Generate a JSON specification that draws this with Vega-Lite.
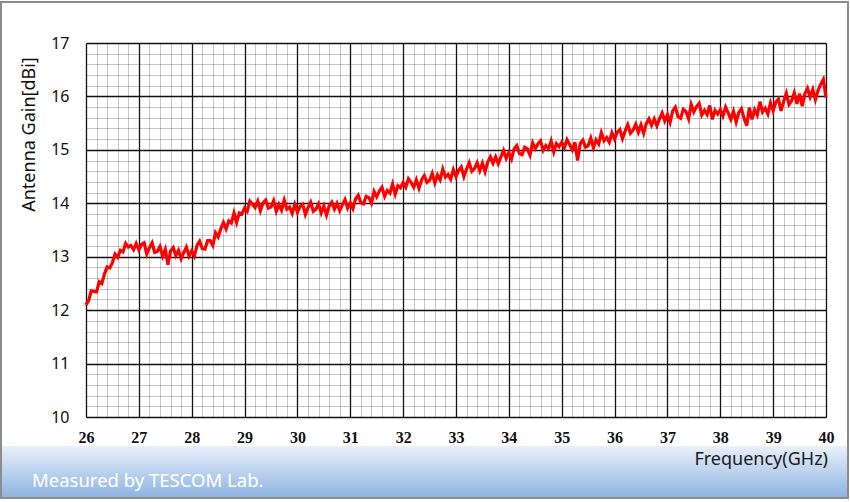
{
  "$schema": "https://vega.github.io/schema/vega-lite/v6.json",
  "width": 740,
  "height": 374,
  "autosize": "none",
  "padding": {"left": 86, "top": 43, "right": 24, "bottom": 85},
  "background": "white",
  "config": {"view": {"stroke": null}},
  "datasets": {
    "gain": [
{"freq":26.00,"gain":12.10},{"freq":26.05,"gain":12.18},{"freq":26.10,"gain":12.36},{"freq":26.15,"gain":12.35},{"freq":26.20,"gain":12.34},{"freq":26.25,"gain":12.53},{"freq":26.30,"gain":12.50},{"freq":26.35,"gain":12.68},{"freq":26.40,"gain":12.81},{"freq":26.45,"gain":12.79},
{"freq":26.50,"gain":12.89},{"freq":26.55,"gain":13.05},{"freq":26.60,"gain":12.99},{"freq":26.65,"gain":13.12},{"freq":26.70,"gain":13.09},{"freq":26.75,"gain":13.25},{"freq":26.80,"gain":13.18},{"freq":26.85,"gain":13.21},{"freq":26.90,"gain":13.13},{"freq":26.95,"gain":13.25},
{"freq":27.00,"gain":13.13},{"freq":27.05,"gain":13.23},{"freq":27.10,"gain":13.26},{"freq":27.15,"gain":13.05},{"freq":27.20,"gain":13.17},{"freq":27.25,"gain":13.26},{"freq":27.30,"gain":13.08},{"freq":27.35,"gain":13.10},{"freq":27.40,"gain":13.19},{"freq":27.45,"gain":13.01},
{"freq":27.50,"gain":13.14},{"freq":27.55,"gain":12.85},{"freq":27.60,"gain":13.11},{"freq":27.65,"gain":13.17},{"freq":27.70,"gain":13.02},{"freq":27.75,"gain":13.12},{"freq":27.80,"gain":12.96},{"freq":27.85,"gain":13.08},{"freq":27.90,"gain":13.18},{"freq":27.95,"gain":13.01},
{"freq":28.00,"gain":13.11},{"freq":28.05,"gain":13.01},{"freq":28.10,"gain":13.21},{"freq":28.15,"gain":13.29},{"freq":28.20,"gain":13.15},{"freq":28.25,"gain":13.14},{"freq":28.30,"gain":13.30},{"freq":28.35,"gain":13.30},{"freq":28.40,"gain":13.21},{"freq":28.45,"gain":13.45},
{"freq":28.50,"gain":13.37},{"freq":28.55,"gain":13.52},{"freq":28.60,"gain":13.64},{"freq":28.65,"gain":13.52},{"freq":28.70,"gain":13.67},{"freq":28.75,"gain":13.63},{"freq":28.80,"gain":13.82},{"freq":28.85,"gain":13.64},{"freq":28.90,"gain":13.82},{"freq":28.95,"gain":13.80},
{"freq":29.00,"gain":13.91},{"freq":29.05,"gain":13.85},{"freq":29.10,"gain":14.04},{"freq":29.15,"gain":13.98},{"freq":29.20,"gain":13.92},{"freq":29.25,"gain":14.04},{"freq":29.30,"gain":13.86},{"freq":29.35,"gain":14.01},{"freq":29.40,"gain":14.06},{"freq":29.45,"gain":13.91},
{"freq":29.50,"gain":13.93},{"freq":29.55,"gain":14.05},{"freq":29.60,"gain":13.85},{"freq":29.65,"gain":13.98},{"freq":29.70,"gain":13.87},{"freq":29.75,"gain":14.06},{"freq":29.80,"gain":13.89},{"freq":29.85,"gain":13.93},{"freq":29.90,"gain":13.81},{"freq":29.95,"gain":13.98},
{"freq":30.00,"gain":13.83},{"freq":30.05,"gain":13.94},{"freq":30.10,"gain":13.98},{"freq":30.15,"gain":13.79},{"freq":30.20,"gain":13.92},{"freq":30.25,"gain":14.02},{"freq":30.30,"gain":13.85},{"freq":30.35,"gain":13.89},{"freq":30.40,"gain":13.99},{"freq":30.45,"gain":13.82},
{"freq":30.50,"gain":13.95},{"freq":30.55,"gain":13.78},{"freq":30.60,"gain":13.95},{"freq":30.65,"gain":14.02},{"freq":30.70,"gain":13.89},{"freq":30.75,"gain":14.00},{"freq":30.80,"gain":13.86},{"freq":30.85,"gain":13.97},{"freq":30.90,"gain":14.07},{"freq":30.95,"gain":13.91},
{"freq":31.00,"gain":14.01},{"freq":31.05,"gain":13.90},{"freq":31.10,"gain":14.08},{"freq":31.15,"gain":14.15},{"freq":31.20,"gain":14.01},{"freq":31.25,"gain":13.99},{"freq":31.30,"gain":14.13},{"freq":31.35,"gain":14.11},{"freq":31.40,"gain":14.00},{"freq":31.45,"gain":14.22},
{"freq":31.50,"gain":14.12},{"freq":31.55,"gain":14.23},{"freq":31.60,"gain":14.30},{"freq":31.65,"gain":14.13},{"freq":31.70,"gain":14.24},{"freq":31.75,"gain":14.19},{"freq":31.80,"gain":14.36},{"freq":31.85,"gain":14.17},{"freq":31.90,"gain":14.33},{"freq":31.95,"gain":14.29},
{"freq":32.00,"gain":14.39},{"freq":32.05,"gain":14.30},{"freq":32.10,"gain":14.46},{"freq":32.15,"gain":14.39},{"freq":32.20,"gain":14.30},{"freq":32.25,"gain":14.44},{"freq":32.30,"gain":14.28},{"freq":32.35,"gain":14.44},{"freq":32.40,"gain":14.52},{"freq":32.45,"gain":14.39},
{"freq":32.50,"gain":14.43},{"freq":32.55,"gain":14.56},{"freq":32.60,"gain":14.38},{"freq":32.65,"gain":14.53},{"freq":32.70,"gain":14.44},{"freq":32.75,"gain":14.64},{"freq":32.80,"gain":14.49},{"freq":32.85,"gain":14.54},{"freq":32.90,"gain":14.45},{"freq":32.95,"gain":14.63},
{"freq":33.00,"gain":14.50},{"freq":33.05,"gain":14.62},{"freq":33.10,"gain":14.68},{"freq":33.15,"gain":14.50},{"freq":33.20,"gain":14.64},{"freq":33.25,"gain":14.76},{"freq":33.30,"gain":14.60},{"freq":33.35,"gain":14.65},{"freq":33.40,"gain":14.76},{"freq":33.45,"gain":14.61},
{"freq":33.50,"gain":14.75},{"freq":33.55,"gain":14.59},{"freq":33.60,"gain":14.77},{"freq":33.65,"gain":14.87},{"freq":33.70,"gain":14.75},{"freq":33.75,"gain":14.87},{"freq":33.80,"gain":14.74},{"freq":33.85,"gain":14.87},{"freq":33.90,"gain":14.99},{"freq":33.95,"gain":14.84},
{"freq":34.00,"gain":14.95},{"freq":34.05,"gain":14.83},{"freq":34.10,"gain":15.02},{"freq":34.15,"gain":15.08},{"freq":34.20,"gain":14.93},{"freq":34.25,"gain":14.91},{"freq":34.30,"gain":15.05},{"freq":34.35,"gain":15.02},{"freq":34.40,"gain":14.90},{"freq":34.45,"gain":15.13},
{"freq":34.50,"gain":15.02},{"freq":34.55,"gain":15.11},{"freq":34.60,"gain":15.17},{"freq":34.65,"gain":14.99},{"freq":34.70,"gain":15.08},{"freq":34.75,"gain":15.02},{"freq":34.80,"gain":15.17},{"freq":34.85,"gain":14.96},{"freq":34.90,"gain":15.12},{"freq":34.95,"gain":15.06},
{"freq":35.00,"gain":15.14},{"freq":35.05,"gain":15.04},{"freq":35.10,"gain":15.19},{"freq":35.15,"gain":15.10},{"freq":35.20,"gain":15.00},{"freq":35.25,"gain":15.14},{"freq":35.30,"gain":14.80},{"freq":35.35,"gain":15.12},{"freq":35.40,"gain":15.18},{"freq":35.45,"gain":15.05},
{"freq":35.50,"gain":15.08},{"freq":35.55,"gain":15.22},{"freq":35.60,"gain":15.04},{"freq":35.65,"gain":15.19},{"freq":35.70,"gain":15.11},{"freq":35.75,"gain":15.32},{"freq":35.80,"gain":15.17},{"freq":35.85,"gain":15.23},{"freq":35.90,"gain":15.14},{"freq":35.95,"gain":15.32},
{"freq":36.00,"gain":15.20},{"freq":36.05,"gain":15.33},{"freq":36.10,"gain":15.38},{"freq":36.15,"gain":15.21},{"freq":36.20,"gain":15.35},{"freq":36.25,"gain":15.47},{"freq":36.30,"gain":15.31},{"freq":36.35,"gain":15.37},{"freq":36.40,"gain":15.48},{"freq":36.45,"gain":15.33},
{"freq":36.50,"gain":15.47},{"freq":36.55,"gain":15.31},{"freq":36.60,"gain":15.49},{"freq":36.65,"gain":15.58},{"freq":36.70,"gain":15.46},{"freq":36.75,"gain":15.58},{"freq":36.80,"gain":15.45},{"freq":36.85,"gain":15.58},{"freq":36.90,"gain":15.69},{"freq":36.95,"gain":15.54},
{"freq":37.00,"gain":15.66},{"freq":37.05,"gain":15.51},{"freq":37.10,"gain":15.73},{"freq":37.15,"gain":15.80},{"freq":37.20,"gain":15.62},{"freq":37.25,"gain":15.59},{"freq":37.30,"gain":15.76},{"freq":37.35,"gain":15.72},{"freq":37.40,"gain":15.58},{"freq":37.45,"gain":15.85},
{"freq":37.50,"gain":15.71},{"freq":37.55,"gain":15.81},{"freq":37.60,"gain":15.87},{"freq":37.65,"gain":15.65},{"freq":37.70,"gain":15.74},{"freq":37.75,"gain":15.66},{"freq":37.80,"gain":15.83},{"freq":37.85,"gain":15.57},{"freq":37.90,"gain":15.74},{"freq":37.95,"gain":15.67},
{"freq":38.00,"gain":15.75},{"freq":38.05,"gain":15.63},{"freq":38.10,"gain":15.80},{"freq":38.15,"gain":15.69},{"freq":38.20,"gain":15.57},{"freq":38.25,"gain":15.72},{"freq":38.30,"gain":15.52},{"freq":38.35,"gain":15.70},{"freq":38.40,"gain":15.77},{"freq":38.45,"gain":15.59},
{"freq":38.50,"gain":15.45},{"freq":38.55,"gain":15.79},{"freq":38.60,"gain":15.57},{"freq":38.65,"gain":15.75},{"freq":38.70,"gain":15.65},{"freq":38.75,"gain":15.90},{"freq":38.80,"gain":15.71},{"freq":38.85,"gain":15.78},{"freq":38.90,"gain":15.67},{"freq":38.95,"gain":15.88},
{"freq":39.00,"gain":15.73},{"freq":39.05,"gain":15.89},{"freq":39.10,"gain":15.95},{"freq":39.15,"gain":15.73},{"freq":39.20,"gain":15.91},{"freq":39.25,"gain":16.06},{"freq":39.30,"gain":15.85},{"freq":39.35,"gain":15.92},{"freq":39.40,"gain":16.07},{"freq":39.45,"gain":15.86},
{"freq":39.50,"gain":16.05},{"freq":39.55,"gain":15.82},{"freq":39.60,"gain":16.05},{"freq":39.65,"gain":16.15},{"freq":39.70,"gain":15.99},{"freq":39.75,"gain":16.13},{"freq":39.80,"gain":15.94},{"freq":39.85,"gain":16.11},{"freq":39.90,"gain":16.23},{"freq":39.95,"gain":16.32},
{"freq":40.00,"gain":15.98}
    ]
  },
  "layer": [
    {
      "data": {"name": "gain"},
      "mark": {"type": "line", "color": "#ff0000", "strokeWidth": 3.2},
      "encoding": {
        "x": {
          "field": "freq", "type": "quantitative",
          "scale": {"domain": [26, 40], "nice": false, "zero": false},
          "axis": {
            "title": null,
            "values": [26,26.2,26.4,26.6,26.8,27,27.2,27.4,27.6,27.8,28,28.2,28.4,28.6,28.8,29,29.2,29.4,29.6,29.8,30,30.2,30.4,30.6,30.8,31,31.2,31.4,31.6,31.8,32,32.2,32.4,32.6,32.8,33,33.2,33.4,33.6,33.8,34,34.2,34.4,34.6,34.8,35,35.2,35.4,35.6,35.8,36,36.2,36.4,36.6,36.8,37,37.2,37.4,37.6,37.8,38,38.2,38.4,38.6,38.8,39,39.2,39.4,39.6,39.8,40],
            "labelExpr": "datum.value % 1 === 0 ? format(datum.value, 'd') : ''",
            "labelOverlap": false,
            "labelFlush": false,
            "labelFont": "Liberation Serif",
            "labelFontWeight": "bold",
            "labelFontSize": 16,
            "labelColor": "#111111",
            "labelPadding": 12,
            "ticks": false,
            "domain": false,
            "grid": true,
            "gridColor": {"condition": {"test": "datum.value % 1 === 0", "value": "#111111"}, "value": "#000000"},
            "gridOpacity": {"condition": {"test": "datum.value % 1 === 0", "value": 1}, "value": 0.22},
            "gridWidth": {"condition": {"test": "datum.value % 1 === 0", "value": 1.3}, "value": 1}
          }
        },
        "y": {
          "field": "gain", "type": "quantitative",
          "scale": {"domain": [10, 17], "nice": false, "zero": false},
          "axis": {
            "title": "Antenna Gain[dBi]",
            "titleFont": "Noto Sans",
            "titleFontSize": 18,
            "titleFontWeight": "normal",
            "titleColor": "#111111",
            "titlePadding": 12,
            "titleY": 91,
            "titleAlign": "center",
            "values": [10,10.2,10.4,10.6,10.8,11,11.2,11.4,11.6,11.8,12,12.2,12.4,12.6,12.8,13,13.2,13.4,13.6,13.8,14,14.2,14.4,14.6,14.8,15,15.2,15.4,15.6,15.8,16,16.2,16.4,16.6,16.8,17],
            "labelExpr": "datum.value % 1 === 0 ? format(datum.value, 'd') : ''",
            "labelOverlap": false,
            "labelFlush": false,
            "labelFont": "Noto Sans",
            "labelFontSize": 16,
            "labelColor": "#111111",
            "labelPadding": 17,
            "ticks": false,
            "domain": false,
            "grid": true,
            "gridColor": {"condition": {"test": "datum.value % 1 === 0", "value": "#111111"}, "value": "#000000"},
            "gridOpacity": {"condition": {"test": "datum.value % 1 === 0", "value": 1}, "value": 0.22},
            "gridWidth": {"condition": {"test": "datum.value % 1 === 0", "value": 1.3}, "value": 1}
          }
        }
      }
    },
    {
      "data": {"values": [{"part": "band"}]},
      "mark": {"type": "rect", "color": {"gradient": "linear", "x1": 0, "y1": 0, "x2": 0, "y2": 1, "stops": [{"offset": 0, "color": "#e9f0fa"}, {"offset": 1, "color": "#8db3e2"}]}},
      "encoding": {
        "x": {"datum": 24.392, "type": "quantitative",
          "axis": {
            "title": null,
            "values": [26,26.2,26.4,26.6,26.8,27,27.2,27.4,27.6,27.8,28,28.2,28.4,28.6,28.8,29,29.2,29.4,29.6,29.8,30,30.2,30.4,30.6,30.8,31,31.2,31.4,31.6,31.8,32,32.2,32.4,32.6,32.8,33,33.2,33.4,33.6,33.8,34,34.2,34.4,34.6,34.8,35,35.2,35.4,35.6,35.8,36,36.2,36.4,36.6,36.8,37,37.2,37.4,37.6,37.8,38,38.2,38.4,38.6,38.8,39,39.2,39.4,39.6,39.8,40],
            "labelExpr": "datum.value % 1 === 0 ? format(datum.value, 'd') : ''",
            "labelOverlap": false,
            "labelFlush": false,
            "labelFont": "Liberation Serif",
            "labelFontWeight": "bold",
            "labelFontSize": 16,
            "labelColor": "#111111",
            "labelPadding": 12,
            "ticks": false,
            "domain": false,
            "grid": true,
            "gridColor": {"condition": {"test": "datum.value % 1 === 0", "value": "#111111"}, "value": "#000000"},
            "gridOpacity": {"condition": {"test": "datum.value % 1 === 0", "value": 1}, "value": 0.22},
            "gridWidth": {"condition": {"test": "datum.value % 1 === 0", "value": 1.3}, "value": 1}
          }
        },
        "x2": {"datum": 40.416},
        "y": {"datum": 9.457, "type": "quantitative",
          "axis": {
            "title": "Antenna Gain[dBi]",
            "titleFont": "Noto Sans",
            "titleFontSize": 18,
            "titleFontWeight": "normal",
            "titleColor": "#111111",
            "titlePadding": 12,
            "titleY": 91,
            "titleAlign": "center",
            "values": [10,10.2,10.4,10.6,10.8,11,11.2,11.4,11.6,11.8,12,12.2,12.4,12.6,12.8,13,13.2,13.4,13.6,13.8,14,14.2,14.4,14.6,14.8,15,15.2,15.4,15.6,15.8,16,16.2,16.4,16.6,16.8,17],
            "labelExpr": "datum.value % 1 === 0 ? format(datum.value, 'd') : ''",
            "labelOverlap": false,
            "labelFlush": false,
            "labelFont": "Noto Sans",
            "labelFontSize": 16,
            "labelColor": "#111111",
            "labelPadding": 17,
            "ticks": false,
            "domain": false,
            "grid": true,
            "gridColor": {"condition": {"test": "datum.value % 1 === 0", "value": "#111111"}, "value": "#000000"},
            "gridOpacity": {"condition": {"test": "datum.value % 1 === 0", "value": 1}, "value": 0.22},
            "gridWidth": {"condition": {"test": "datum.value % 1 === 0", "value": 1.3}, "value": 1}
          }
        },
        "y2": {"datum": 8.484}
      }
    },
    {
      "data": {"values": [{"part": "frame"}]},
      "mark": {"type": "rect", "fill": null, "stroke": "#8c8c8c", "strokeWidth": 2},
      "encoding": {
        "x": {"datum": 24.392, "type": "quantitative",
          "axis": {
            "title": null,
            "values": [26,26.2,26.4,26.6,26.8,27,27.2,27.4,27.6,27.8,28,28.2,28.4,28.6,28.8,29,29.2,29.4,29.6,29.8,30,30.2,30.4,30.6,30.8,31,31.2,31.4,31.6,31.8,32,32.2,32.4,32.6,32.8,33,33.2,33.4,33.6,33.8,34,34.2,34.4,34.6,34.8,35,35.2,35.4,35.6,35.8,36,36.2,36.4,36.6,36.8,37,37.2,37.4,37.6,37.8,38,38.2,38.4,38.6,38.8,39,39.2,39.4,39.6,39.8,40],
            "labelExpr": "datum.value % 1 === 0 ? format(datum.value, 'd') : ''",
            "labelOverlap": false,
            "labelFlush": false,
            "labelFont": "Liberation Serif",
            "labelFontWeight": "bold",
            "labelFontSize": 16,
            "labelColor": "#111111",
            "labelPadding": 12,
            "ticks": false,
            "domain": false,
            "grid": true,
            "gridColor": {"condition": {"test": "datum.value % 1 === 0", "value": "#111111"}, "value": "#000000"},
            "gridOpacity": {"condition": {"test": "datum.value % 1 === 0", "value": 1}, "value": 0.22},
            "gridWidth": {"condition": {"test": "datum.value % 1 === 0", "value": 1.3}, "value": 1}
          }
        },
        "x2": {"datum": 40.416},
        "y": {"datum": 17.767, "type": "quantitative",
          "axis": {
            "title": "Antenna Gain[dBi]",
            "titleFont": "Noto Sans",
            "titleFontSize": 18,
            "titleFontWeight": "normal",
            "titleColor": "#111111",
            "titlePadding": 12,
            "titleY": 91,
            "titleAlign": "center",
            "values": [10,10.2,10.4,10.6,10.8,11,11.2,11.4,11.6,11.8,12,12.2,12.4,12.6,12.8,13,13.2,13.4,13.6,13.8,14,14.2,14.4,14.6,14.8,15,15.2,15.4,15.6,15.8,16,16.2,16.4,16.6,16.8,17],
            "labelExpr": "datum.value % 1 === 0 ? format(datum.value, 'd') : ''",
            "labelOverlap": false,
            "labelFlush": false,
            "labelFont": "Noto Sans",
            "labelFontSize": 16,
            "labelColor": "#111111",
            "labelPadding": 17,
            "ticks": false,
            "domain": false,
            "grid": true,
            "gridColor": {"condition": {"test": "datum.value % 1 === 0", "value": "#111111"}, "value": "#000000"},
            "gridOpacity": {"condition": {"test": "datum.value % 1 === 0", "value": 1}, "value": 0.22},
            "gridWidth": {"condition": {"test": "datum.value % 1 === 0", "value": 1.3}, "value": 1}
          }
        },
        "y2": {"datum": 8.484}
      }
    },
    {
      "data": {"values": [{"part": "note"}]},
      "mark": {"type": "text", "text": "Measured by TESCOM Lab.", "color": "white", "font": "Noto Sans", "fontSize": 18.5, "align": "left", "baseline": "middle"},
      "encoding": {
        "x": {"datum": 24.978, "type": "quantitative",
          "axis": {
            "title": null,
            "values": [26,26.2,26.4,26.6,26.8,27,27.2,27.4,27.6,27.8,28,28.2,28.4,28.6,28.8,29,29.2,29.4,29.6,29.8,30,30.2,30.4,30.6,30.8,31,31.2,31.4,31.6,31.8,32,32.2,32.4,32.6,32.8,33,33.2,33.4,33.6,33.8,34,34.2,34.4,34.6,34.8,35,35.2,35.4,35.6,35.8,36,36.2,36.4,36.6,36.8,37,37.2,37.4,37.6,37.8,38,38.2,38.4,38.6,38.8,39,39.2,39.4,39.6,39.8,40],
            "labelExpr": "datum.value % 1 === 0 ? format(datum.value, 'd') : ''",
            "labelOverlap": false,
            "labelFlush": false,
            "labelFont": "Liberation Serif",
            "labelFontWeight": "bold",
            "labelFontSize": 16,
            "labelColor": "#111111",
            "labelPadding": 12,
            "ticks": false,
            "domain": false,
            "grid": true,
            "gridColor": {"condition": {"test": "datum.value % 1 === 0", "value": "#111111"}, "value": "#000000"},
            "gridOpacity": {"condition": {"test": "datum.value % 1 === 0", "value": 1}, "value": 0.22},
            "gridWidth": {"condition": {"test": "datum.value % 1 === 0", "value": 1.3}, "value": 1}
          }
        },
        "y": {"datum": 8.80, "type": "quantitative",
          "axis": {
            "title": "Antenna Gain[dBi]",
            "titleFont": "Noto Sans",
            "titleFontSize": 18,
            "titleFontWeight": "normal",
            "titleColor": "#111111",
            "titlePadding": 12,
            "titleY": 91,
            "titleAlign": "center",
            "values": [10,10.2,10.4,10.6,10.8,11,11.2,11.4,11.6,11.8,12,12.2,12.4,12.6,12.8,13,13.2,13.4,13.6,13.8,14,14.2,14.4,14.6,14.8,15,15.2,15.4,15.6,15.8,16,16.2,16.4,16.6,16.8,17],
            "labelExpr": "datum.value % 1 === 0 ? format(datum.value, 'd') : ''",
            "labelOverlap": false,
            "labelFlush": false,
            "labelFont": "Noto Sans",
            "labelFontSize": 16,
            "labelColor": "#111111",
            "labelPadding": 17,
            "ticks": false,
            "domain": false,
            "grid": true,
            "gridColor": {"condition": {"test": "datum.value % 1 === 0", "value": "#111111"}, "value": "#000000"},
            "gridOpacity": {"condition": {"test": "datum.value % 1 === 0", "value": 1}, "value": 0.22},
            "gridWidth": {"condition": {"test": "datum.value % 1 === 0", "value": 1.3}, "value": 1}
          }
        }
      }
    },
    {
      "data": {"values": [{"part": "xtitle"}]},
      "mark": {"type": "text", "text": "Frequency(GHz)", "color": "#1a1a1a", "font": "Noto Sans", "fontSize": 18, "align": "right", "baseline": "middle"},
      "encoding": {
        "x": {"datum": 40.038, "type": "quantitative",
          "axis": {
            "title": null,
            "values": [26,26.2,26.4,26.6,26.8,27,27.2,27.4,27.6,27.8,28,28.2,28.4,28.6,28.8,29,29.2,29.4,29.6,29.8,30,30.2,30.4,30.6,30.8,31,31.2,31.4,31.6,31.8,32,32.2,32.4,32.6,32.8,33,33.2,33.4,33.6,33.8,34,34.2,34.4,34.6,34.8,35,35.2,35.4,35.6,35.8,36,36.2,36.4,36.6,36.8,37,37.2,37.4,37.6,37.8,38,38.2,38.4,38.6,38.8,39,39.2,39.4,39.6,39.8,40],
            "labelExpr": "datum.value % 1 === 0 ? format(datum.value, 'd') : ''",
            "labelOverlap": false,
            "labelFlush": false,
            "labelFont": "Liberation Serif",
            "labelFontWeight": "bold",
            "labelFontSize": 16,
            "labelColor": "#111111",
            "labelPadding": 12,
            "ticks": false,
            "domain": false,
            "grid": true,
            "gridColor": {"condition": {"test": "datum.value % 1 === 0", "value": "#111111"}, "value": "#000000"},
            "gridOpacity": {"condition": {"test": "datum.value % 1 === 0", "value": 1}, "value": 0.22},
            "gridWidth": {"condition": {"test": "datum.value % 1 === 0", "value": 1.3}, "value": 1}
          }
        },
        "y": {"datum": 9.195, "type": "quantitative",
          "axis": {
            "title": "Antenna Gain[dBi]",
            "titleFont": "Noto Sans",
            "titleFontSize": 18,
            "titleFontWeight": "normal",
            "titleColor": "#111111",
            "titlePadding": 12,
            "titleY": 91,
            "titleAlign": "center",
            "values": [10,10.2,10.4,10.6,10.8,11,11.2,11.4,11.6,11.8,12,12.2,12.4,12.6,12.8,13,13.2,13.4,13.6,13.8,14,14.2,14.4,14.6,14.8,15,15.2,15.4,15.6,15.8,16,16.2,16.4,16.6,16.8,17],
            "labelExpr": "datum.value % 1 === 0 ? format(datum.value, 'd') : ''",
            "labelOverlap": false,
            "labelFlush": false,
            "labelFont": "Noto Sans",
            "labelFontSize": 16,
            "labelColor": "#111111",
            "labelPadding": 17,
            "ticks": false,
            "domain": false,
            "grid": true,
            "gridColor": {"condition": {"test": "datum.value % 1 === 0", "value": "#111111"}, "value": "#000000"},
            "gridOpacity": {"condition": {"test": "datum.value % 1 === 0", "value": 1}, "value": 0.22},
            "gridWidth": {"condition": {"test": "datum.value % 1 === 0", "value": 1.3}, "value": 1}
          }
        }
      }
    }
  ]
}
